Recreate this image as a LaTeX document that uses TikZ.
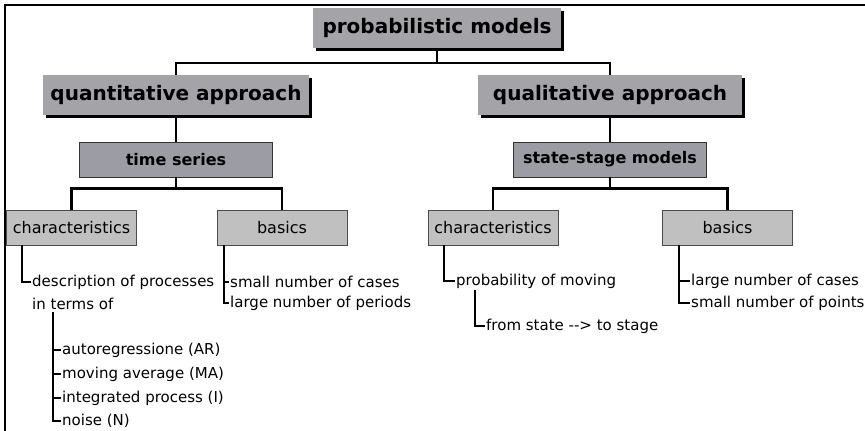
\documentclass[tikz,border=0pt]{standalone}
\usepackage{fontspec}
\setmainfont{DejaVu Sans}
\usetikzlibrary{positioning, shadows}
\definecolor{headgray}{RGB}{163,163,168}
\definecolor{subgray}{RGB}{156,156,164}
\definecolor{leafgray}{RGB}{192,192,192}

\begin{document}
\begin{tikzpicture}[x=1pt, y=-1pt,
  headbox/.style={fill=headgray, inner sep=0pt, minimum height=40pt, font=\bfseries\fontsize{20}{24}\selectfont, drop shadow={shadow xshift=3pt, shadow yshift=-3pt, fill=black, opacity=1}},
  subbox/.style={draw=black!80, line width=0.9pt, fill=subgray, inner sep=0pt, minimum width=193pt, minimum height=35pt, font=\bfseries\fontsize{16}{19}\selectfont},
  leafbox/.style={draw=black!70, line width=0.9pt, fill=leafgray, inner sep=0pt, minimum width=130pt, minimum height=35pt, font=\fontsize{16}{19}\selectfont},
  item/.style={anchor=west, inner sep=1pt, font=\fontsize{15}{18}\selectfont},
  link/.style={line width=2.2pt, line join=miter},
  twig/.style={line width=1.9pt, line join=miter}
]
  \useasboundingbox (0,0) rectangle (865,431);
  \draw[line width=2.4pt] (5,431) -- (5,5) -- (865,5);

  \node[headbox, minimum width=248pt] (prob) at (437,28) {probabilistic models};
  \node[headbox, minimum width=266pt] (quant) at (176,95) {quantitative approach};
  \node[headbox, minimum width=264pt] (qual) at (610,95) {qualitative approach};
  \node[subbox] (ts) at (176,159.5) {time series};
  \node[subbox] (ss) at (610,159.5) {state-stage models};
  \node[leafbox] (charL) at (71.5,227.5) {characteristics};
  \node[leafbox] (basL) at (282,227.5) {basics};
  \node[leafbox] (charR) at (493,227.5) {characteristics};
  \node[leafbox] (basR) at (727.5,227.5) {basics};

  \draw[link] (prob.south) -- ++(0,15) coordinate (pj);
  \draw[link] (pj) -| (quant.north);
  \draw[link] (pj) -| (qual.north);
  \draw[link] (quant.south) -- (ts.north);
  \draw[link] (qual.south) -- (ss.north);
  \draw[link] (ts.south) -- ++(0,11) coordinate (tj);
  \draw[link] (tj) -| (charL.north);
  \draw[link] (tj) -| (basL.north);
  \draw[link] (ss.south) -- ++(0,11) coordinate (sj);
  \draw[link] (sj) -| (charR.north);
  \draw[link] (sj) -| (basR.north);

  \node[item] (d1) at (31,282) {description of processes};
  \node[item] (d2) at (31,304) {in terms of};
  \node[item] (ar) at (61,350) {autoregressione (AR)};
  \node[item] (ma) at (61,374) {moving average (MA)};
  \node[item] (ip) at (61,398) {integrated process (I)};
  \node[item] (nz) at (61,421) {noise (N)};
  \draw[twig] ([xshift=16pt]charL.south west) |- (d1.west);
  \draw[twig] ([xshift=22pt,yshift=-1pt]d2.south west) |- (nz.west);
  \foreach \n in {ar, ma, ip} \draw[twig] (\n.west) -- ++(-8,0);

  \node[item] (bl1) at (229,282) {small number of cases};
  \node[item] (bl2) at (229,303) {large number of periods};
  \draw[twig] ([xshift=7pt]basL.south west) |- (bl2.west);
  \draw[twig] (bl1.west) -- ++(-6,0);

  \node[item] (p1) at (455,281) {probability of moving};
  \node[item] (p2) at (485,326) {from state -{}-> to stage};
  \draw[twig] ([xshift=16pt]charR.south west) |- (p1.west);
  \draw[twig] ([xshift=20pt,yshift=-1pt]p1.south west) |- (p2.west);

  \node[item] (br1) at (690,281) {large number of cases};
  \node[item] (br2) at (690,303) {small number of points};
  \draw[twig] ([xshift=16.5pt]basR.south west) |- (br2.west);
  \draw[twig] (br1.west) -- ++(-11,0);
\end{tikzpicture}
\end{document}
